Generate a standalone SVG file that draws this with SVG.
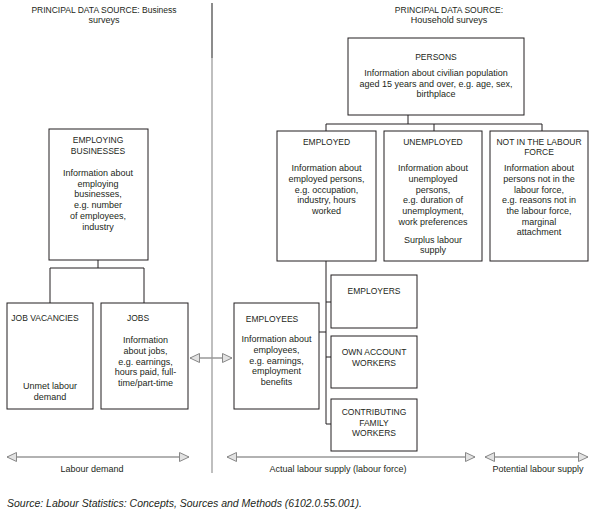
<svg xmlns="http://www.w3.org/2000/svg" width="593" height="518" viewBox="0 0 593 518">
<defs>
<style>
text{font-family:"Liberation Sans",Arial,sans-serif;font-size:9px;fill:#231f20;text-anchor:middle}
.t{font-size:8.5px}
.src{font-size:10.5px;font-style:italic;text-anchor:start}
.box{fill:#fff;stroke:#231f20;stroke-width:1}
.ln{fill:none;stroke:#231f20;stroke-width:1}
.arr{fill:none;stroke:#999;stroke-width:1.6;marker-start:url(#ah);marker-end:url(#ah)}
</style>
<marker id="ah" markerWidth="12" markerHeight="12" refX="10.5" refY="6" orient="auto-start-reverse" markerUnits="userSpaceOnUse">
<path d="M1,1.5 L10.5,6 L1,10.5 Z" fill="#e2e2e2" stroke="#888" stroke-width="1"/>
</marker>
</defs>
<rect width="593" height="518" fill="#fff"/>

<g id="headers">
<text class="t" x="104" y="12.5">PRINCIPAL DATA SOURCE: Business</text>
<text x="104" y="23">surveys</text>
<text class="t" x="449" y="12.5">PRINCIPAL DATA SOURCE:</text>
<text x="449" y="23">Household surveys</text>
</g>

<g id="divider">
<line x1="212" y1="3" x2="212" y2="58" stroke="#666" stroke-width="1.5"/>
<line x1="212" y1="58" x2="212" y2="473" stroke="#aaa" stroke-width="1.5"/>
</g>

<g id="connectors">
<path class="ln" d="M98,260 V268 M50,303 V268 H144 V303"/>
<path class="ln" d="M408,115 V124 M326,131 V124 H542 V131 M434,124 V131"/>
<path class="ln" d="M326,261 V424 M326,302 H331 M326,357 H331 M326,424 H331 M319,332 H326"/>
<line class="arr" x1="190" y1="358" x2="232" y2="358"/>
<line class="arr" x1="7" y1="457" x2="189" y2="457"/>
<line class="arr" x1="227" y1="457" x2="475" y2="457"/>
<line class="arr" x1="485" y1="457" x2="588" y2="457"/>
</g>

<g id="persons">
<rect class="box" x="348" y="38" width="176" height="77" stroke="#555" stroke-width="1.3"/>
<text class="t" x="436" y="59.5">PERSONS</text>
<text x="436" y="76">Information about civilian population</text>
<text x="436" y="86.5">aged 15 years and over, e.g. age, sex,</text>
<text x="436" y="97">birthplace</text>
</g>

<g id="employed">
<rect class="box" x="277" y="131" width="99" height="130"/>
<text class="t" x="326.5" y="145">EMPLOYED</text>
<text x="326.5" y="171">Information about</text>
<text x="326.5" y="181.5">employed persons,</text>
<text x="326.5" y="192.5">e.g. occupation,</text>
<text x="326.5" y="203">industry, hours</text>
<text x="326.5" y="214">worked</text>
</g>

<g id="unemployed">
<rect class="box" x="384" y="131" width="98" height="130"/>
<text class="t" x="433" y="145">UNEMPLOYED</text>
<text x="433" y="171">Information about</text>
<text x="433" y="181.5">unemployed</text>
<text x="433" y="192.5">persons,</text>
<text x="433" y="203">e.g. duration of</text>
<text x="433" y="214">unemployment,</text>
<text x="433" y="225">work preferences</text>
<text x="433" y="242.5">Surplus labour</text>
<text x="433" y="253">supply</text>
</g>

<g id="not-in-labour-force">
<rect class="box" x="490" y="131" width="98" height="130"/>
<text class="t" x="539" y="145">NOT IN THE LABOUR</text>
<text class="t" x="539" y="155">FORCE</text>
<text x="539" y="171">Information about</text>
<text x="539" y="181.5">persons not in the</text>
<text x="539" y="192.5">labour force,</text>
<text x="539" y="203">e.g. reasons not in</text>
<text x="539" y="214">the labour force,</text>
<text x="539" y="225">marginal</text>
<text x="539" y="235">attachment</text>
</g>

<g id="employing-businesses">
<rect class="box" x="49" y="129" width="99" height="131"/>
<text class="t" x="98" y="142.5">EMPLOYING</text>
<text class="t" x="98" y="154">BUSINESSES</text>
<text x="98" y="176">Information about</text>
<text x="98" y="186.5">employing</text>
<text x="98" y="197">businesses,</text>
<text x="98" y="208">e.g. number</text>
<text x="98" y="219">of employees,</text>
<text x="98" y="230">industry</text>
</g>

<g id="job-vacancies">
<rect class="box" x="7" y="303" width="86" height="106"/>
<text class="t" x="45" y="321">JOB VACANCIES</text>
<text x="50" y="389">Unmet labour</text>
<text x="50" y="400">demand</text>
</g>

<g id="jobs">
<rect class="box" x="101" y="303" width="87" height="106"/>
<text class="t" x="138" y="321">JOBS</text>
<text x="145.5" y="343">Information</text>
<text x="145.5" y="354">about jobs,</text>
<text x="145.5" y="364.5">e.g. earnings,</text>
<text x="145.5" y="375">hours paid, full-</text>
<text x="145.5" y="386">time/part-time</text>
</g>

<g id="employees">
<rect class="box" x="234" y="303" width="85" height="106"/>
<text class="t" x="272" y="321.5">EMPLOYEES</text>
<text x="276.5" y="342">Information about</text>
<text x="276.5" y="353">employees,</text>
<text x="276.5" y="363.5">e.g. earnings,</text>
<text x="276.5" y="374">employment</text>
<text x="276.5" y="384.5">benefits</text>
</g>

<g id="employers">
<rect class="box" x="331" y="275" width="86" height="53"/>
<text class="t" x="374" y="293.5">EMPLOYERS</text>
</g>

<g id="own-account-workers">
<rect class="box" x="331" y="336" width="86" height="52"/>
<text class="t" x="374" y="355">OWN ACCOUNT</text>
<text class="t" x="374" y="366">WORKERS</text>
</g>

<g id="contributing-family-workers">
<rect class="box" x="331" y="399" width="86" height="52"/>
<text class="t" x="374" y="414.5">CONTRIBUTING</text>
<text class="t" x="374" y="425.5">FAMILY</text>
<text class="t" x="374" y="436">WORKERS</text>
</g>

<g id="labels">
<text x="92" y="472">Labour demand</text>
<text x="338" y="472">Actual labour supply (labour force)</text>
<text x="538" y="472">Potential labour supply</text>
<text class="src" x="7" y="506.5">Source: Labour Statistics: Concepts, Sources and Methods (6102.0.55.001).</text>
</g>
</svg>
